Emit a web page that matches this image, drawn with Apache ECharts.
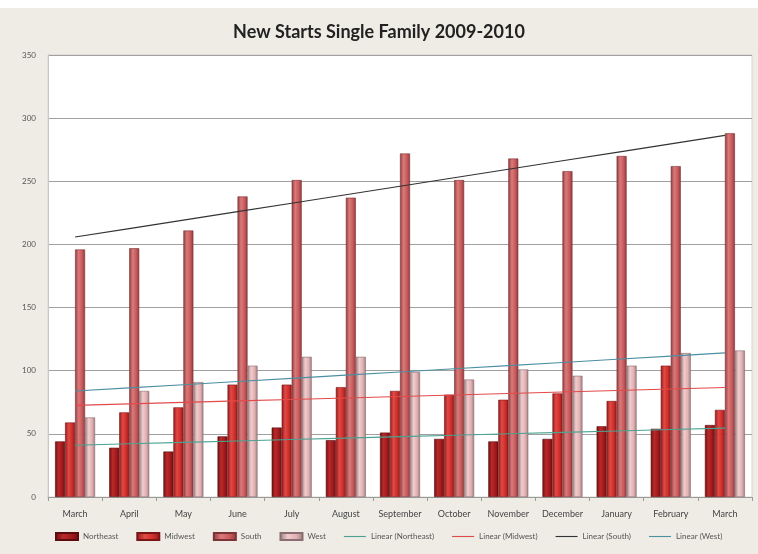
<!DOCTYPE html>
<html>
<head>
<meta charset="utf-8">
<script src="https://cdn.jsdelivr.net/npm/echarts@6/dist/echarts.min.js"></script>
<style>
  html, body { margin: 0; padding: 0; background: #fff; }
  #chart { width: 758px; height: 554px; }
</style>
</head>
<body>
<div id="chart"></div>
<script>
// Months covered by the report (March 2009 through March 2010)
const months = ['March', 'April', 'May', 'June', 'July', 'August', 'September',
  'October', 'November', 'December', 'January', 'February', 'March'];

// New single-family starts by region (thousands)
const northeast = [44, 39, 36, 48, 55, 45, 51, 46, 44, 46, 56, 54, 57];
const midwest   = [59, 67, 71, 89, 89, 87, 84, 81, 77, 82, 76, 104, 69];
const south     = [196, 197, 211, 238, 251, 237, 272, 251, 268, 258, 270, 262, 288];
const west      = [63, 84, 91, 104, 111, 111, 99, 93, 101, 96, 104, 114, 116];

const yTicks = [0, 50, 100, 150, 200, 250, 300, 350];

// Least-squares linear trend evaluated at every category index
function linearTrend(values) {
  const n = values.length;
  let sx = 0, sy = 0, sxx = 0, sxy = 0;
  values.forEach((v, i) => { sx += i; sy += v; sxx += i * i; sxy += i * v; });
  const slope = (n * sxy - sx * sy) / (n * sxx - sx * sx);
  const icpt = (sy - slope * sx) / n;
  return values.map((_, i) => +(icpt + slope * i).toFixed(2));
}

// Shaded column fill: darker edges, lighter middle
function shade(edge, mid, light) {
  return new echarts.graphic.LinearGradient(0, 0, 1, 0, [
    { offset: 0, color: edge },
    { offset: 0.35, color: light },
    { offset: 0.7, color: mid },
    { offset: 1, color: edge }
  ]);
}

function barSeries(name, data, fill, border) {
  return {
    name: name,
    type: 'bar',
    data: data,
    barWidth: 10,
    barGap: '0%',
    itemStyle: { color: fill, borderColor: border, borderWidth: 0.6 },
    emphasis: { disabled: true }
  };
}

function trendSeries(name, data, color) {
  return {
    name: name,
    type: 'line',
    data: linearTrend(data),
    symbol: 'none',
    lineStyle: { color: color, width: 1.1 },
    itemStyle: { color: color },
    z: 5,
    emphasis: { disabled: true }
  };
}

// Thin horizontal stroke used as the legend marker of the trend lines
const lineIcon = 'path://M0,0L24,0L24,1.2L0,1.2Z';

const chart = echarts.init(document.getElementById('chart'), null, { renderer: 'canvas' });

chart.setOption({
  animation: false,
  backgroundColor: '#EEECE5',
  graphic: [
    { type: 'rect', left: 0, top: 0, shape: { width: 758, height: 8 }, style: { fill: '#ffffff' }, silent: true }
  ],
  title: {
    text: 'New Starts Single Family 2009-2010',
    left: 'center',
    top: 18,
    textStyle: { fontFamily: 'Lato', fontWeight: 'bold', fontSize: 18, color: '#222' }
  },
  grid: {
    left: 48, right: 6, top: 55, bottom: 57,
    show: true, backgroundColor: '#ffffff', borderColor: '#d8d6cf', borderWidth: 1
  },
  legend: {
    bottom: 8,
    left: 50,
    itemWidth: 22,
    itemHeight: 7,
    itemGap: 18,
    textStyle: { fontFamily: 'Lato', fontSize: 8, color: '#555' },
    data: [
      { name: 'Northeast', icon: 'rect' },
      { name: 'Midwest', icon: 'rect' },
      { name: 'South', icon: 'rect' },
      { name: 'West', icon: 'rect' },
      { name: 'Linear (Northeast)', icon: lineIcon },
      { name: 'Linear (Midwest)', icon: lineIcon },
      { name: 'Linear (South)', icon: lineIcon },
      { name: 'Linear (West)', icon: lineIcon }
    ]
  },
  xAxis: {
    type: 'category',
    data: months,
    axisLine: { lineStyle: { color: '#9a9a9a' } },
    axisTick: { show: true, lineStyle: { color: '#9a9a9a' }, length: 4 },
    axisLabel: { fontFamily: 'Lato', fontSize: 9, color: '#444', margin: 13, interval: 0 }
  },
  yAxis: {
    type: 'value',
    min: yTicks[0],
    max: yTicks[yTicks.length - 1],
    interval: yTicks[1] - yTicks[0],
    axisLine: { show: true, lineStyle: { color: '#c9c7c0' } },
    axisTick: { show: false },
    axisLabel: { fontFamily: 'Lato', fontSize: 8, color: '#555', margin: 12 },
    splitLine: { lineStyle: { color: '#a0a0a0', width: 1 } }
  },
  series: [
    barSeries('Northeast', northeast, shade('#6e0f12', '#a3191d', '#b92a2a'), '#5a0c0e'),
    barSeries('Midwest', midwest, shade('#8e1a1a', '#d02e2b', '#e04a45'), '#7a1515'),
    barSeries('South', south, shade('#8f3a3c', '#c85a5c', '#da7a7b'), '#7d3234'),
    barSeries('West', west, shade('#9c7d80', '#e2b1b3', '#f0cccd'), '#8a6d70'),
    trendSeries('Linear (Northeast)', northeast, '#4aa391'),
    trendSeries('Linear (Midwest)', midwest, '#e24a4a'),
    trendSeries('Linear (South)', south, '#333333'),
    trendSeries('Linear (West)', west, '#4b8fa3')
  ]
});
</script>
</body>
</html>
